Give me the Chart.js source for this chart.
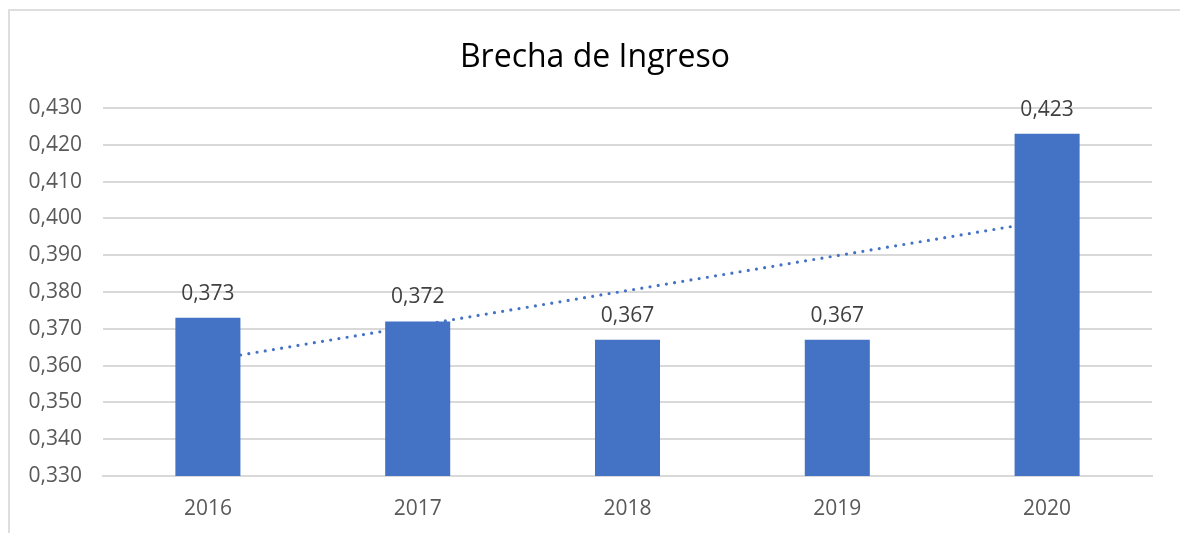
<!DOCTYPE html>
<html>
<head>
<meta charset="utf-8">
<script src="https://cdn.jsdelivr.net/npm/chart.js@4.4.0/dist/chart.umd.min.js"></script>
<style>
  html,body{margin:0;padding:0;background:#fff;}
  #wrap{position:relative;width:1180px;height:533px;overflow:hidden;}
  #frame{position:absolute;left:8px;top:9px;width:1200px;height:600px;border-left:2px solid #dedede;border-top:2px solid #dedede;box-sizing:border-box;pointer-events:none;}
  canvas{position:absolute;left:0;top:0;}
</style>
</head>
<body>
<div id="wrap">
<canvas id="c" width="1180" height="533"></canvas>
<div id="frame"></div>
</div>
<script>
const categories = ['2016','2017','2018','2019','2020'];
const brecha = [0.373, 0.372, 0.367, 0.367, 0.423];
const tendencia = [0.3614, 0.3709, 0.3804, 0.3899, 0.3994];
const chartTitle = 'Brecha de Ingreso';

const fmt = v => v.toFixed(3).replace('.', ',');
const FONT = '"Open Sans", "Noto Sans", sans-serif';

const labelPlugin = {
  id: 'barLabels',
  afterLayout(chart) {
    // centre the title over the frame like the original (shift right)
    if (chart.titleBlock) { chart.titleBlock.left += 38; }
  },
  afterDatasetsDraw(chart) {
    const ctx = chart.ctx;
    const meta = chart.getDatasetMeta(0);
    ctx.save();
    ctx.font = '21px ' + FONT;
    ctx.fillStyle = '#404040';
    ctx.textAlign = 'center';
    ctx.textBaseline = 'middle';
    meta.data.forEach((bar, i) => {
      ctx.fillText(fmt(brecha[i]), bar.x, bar.y - 24);
    });
    ctx.restore();
  }
};

new Chart(document.getElementById('c'), {
  data: {
    labels: categories,
    datasets: [
      {
        type: 'bar',
        data: brecha,
        backgroundColor: '#4472C4',
        borderWidth: 0,
        categoryPercentage: 1,
        barPercentage: 0.31,
        order: 1
      },
      {
        type: 'line',
        data: tendencia,
        borderColor: '#4472C4',
        borderWidth: 3.2,
        borderDash: [0, 8.3],
        borderCapStyle: 'round',
        pointRadius: 0,
        fill: false,
        tension: 0,
        order: 2
      }
    ]
  },
  options: {
    responsive: false,
    animation: false,
    devicePixelRatio: 1,
    layout: { padding: { left: 0, right: 28, top: 0, bottom: 0 } },
    plugins: {
      legend: { display: false },
      tooltip: { enabled: false },
      title: {
        display: true,
        text: chartTitle,
        color: '#000000',
        font: { family: FONT, size: 32, weight: 'normal', lineHeight: 1.2 },
        padding: { top: 39, bottom: 30.6 }
      }
    },
    scales: {
      x: {
        grid: { display: false, drawTicks: false },
        border: { display: true, color: '#d9d9d9', width: 2 },
        ticks: { color: '#595959', font: { family: FONT, size: 21 }, padding: 20 },
        afterFit(s) { s.height = 57; }
      },
      y: {
        min: 0.33,
        max: 0.43,
        grid: { color: '#d9d9d9', lineWidth: 2, drawTicks: false },
        border: { display: false },
        ticks: {
          stepSize: 0.01,
          color: '#595959',
          font: { family: FONT, size: 21 },
          padding: 21,
          callback: v => fmt(v)
        },
        afterFit(s) { s.width = 103; }
      }
    }
  },
  plugins: [labelPlugin]
});
</script>
</body>
</html>
